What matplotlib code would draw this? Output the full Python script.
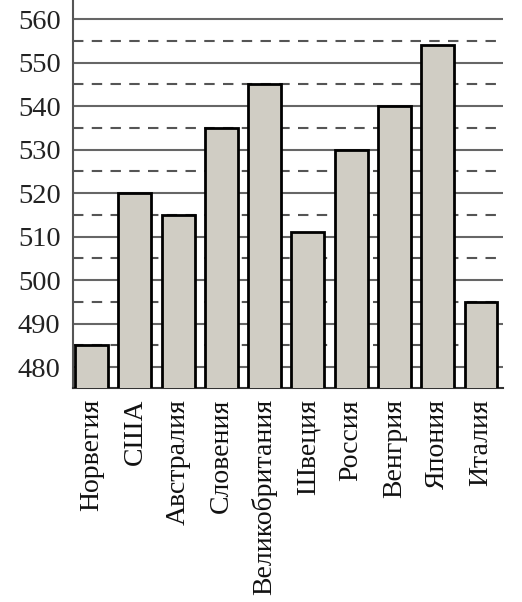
import numpy as np
import matplotlib
matplotlib.use("Agg")
import matplotlib.pyplot as plt

countries = ["Норвегия", "США", "Австралия", "Словения", "Великобритания",
             "Швеция", "Россия", "Венгрия", "Япония", "Италия"]
scores = [485, 520, 515, 535, 545, 511, 530, 540, 554, 495]
major_ticks = [480, 490, 500, 510, 520, 530, 540, 550, 560]
minor_ticks = [485, 495, 505, 515, 525, 535, 545, 555]

plt.rcParams['font.family'] = ['Liberation Serif', 'FreeSerif', 'DejaVu Serif']

fig = plt.figure(figsize=(5.22, 6.02), dpi=100)
ax = fig.add_axes([0.14, 0.3555, 0.8236, 0.6445])

x = np.arange(len(countries))
ax.bar(x, scores, width=0.76, bottom=0, color="#d0cdc4", edgecolor="black",
       linewidth=2, zorder=3)

for v in major_ticks:
    ax.axhline(v, color="#666666", linewidth=1.5, zorder=1)
for v in minor_ticks:
    ax.axhline(v, color="#555555", linewidth=1.5, linestyle=(0, (5, 4)), zorder=1)

ax.set_ylim(475.2, 564.4)
ax.set_xlim(-0.43, 9.51)
ax.set_yticks(major_ticks)
ax.set_yticklabels([str(v) for v in major_ticks], fontsize=20.5, color="#222222")
ax.set_xticks(x)
ax.set_xticklabels(countries, rotation=90, fontsize=20, va="top", color="#111111")
ax.tick_params(axis="both", length=0)
ax.tick_params(axis="y", pad=9)
ax.tick_params(axis="x", pad=8)

for s in ["top", "right"]:
    ax.spines[s].set_visible(False)
ax.spines["left"].set_color("#555555")
ax.spines["left"].set_linewidth(1.5)
ax.spines["bottom"].set_color("#333333")
ax.spines["bottom"].set_linewidth(1.5)

fig.savefig("out.png", dpi=100)
